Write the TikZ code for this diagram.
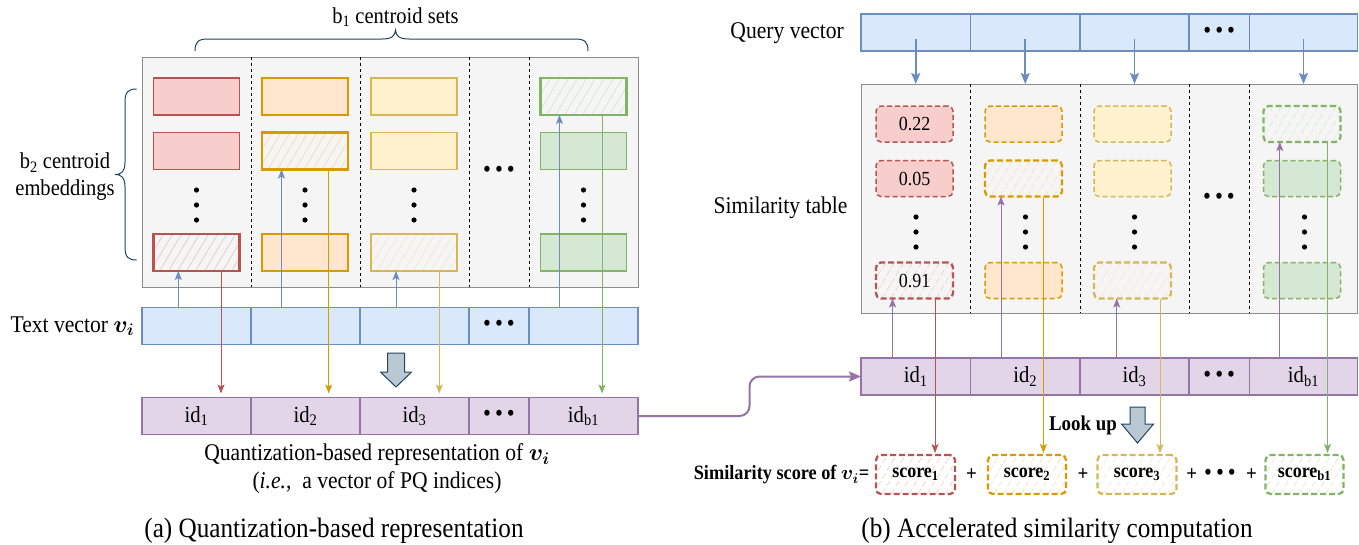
\RequirePackage{fix-cm}
\documentclass[tikz,border=0pt]{standalone}
\usepackage{amsmath,bm}
\usepackage{fontspec}
\setmainfont{Liberation Serif}[FakeStretch=0.9]
\usetikzlibrary{arrows.meta,calc}
\definecolor{redF}{HTML}{F8CECC}\definecolor{redD}{HTML}{B85450}
\definecolor{oraF}{HTML}{FFE6CC}\definecolor{oraD}{HTML}{D79B00}
\definecolor{yelF}{HTML}{FFF2CC}\definecolor{yelD}{HTML}{D6B656}
\definecolor{greF}{HTML}{D5E8D4}\definecolor{greD}{HTML}{82B366}
\definecolor{bluF}{HTML}{DAE8FC}\definecolor{bluD}{HTML}{6C8EBF}
\definecolor{purF}{HTML}{E1D5E7}\definecolor{purD}{HTML}{9673A6}
\definecolor{grayF}{HTML}{F5F5F5}\definecolor{grayD}{HTML}{8C8C8C}
\definecolor{arrF}{HTML}{BAC8D3}\definecolor{arrD}{HTML}{23445D}
\newcommand\tdots{\textbullet\hspace{4pt}\textbullet\hspace{4pt}\textbullet}
\newcommand\bv{$\bm{v}_{\bm{i}}$}
\begin{document}
\begin{tikzpicture}[x=1pt,y=-1pt,
  hatch/.style={path picture={\foreach \k in {0,...,14}{\draw[#1, line width=0.8pt] ($(path picture bounding box.south west)+(\k*9pt-30pt,0pt)$) -- ++(36pt,60pt);}}},
  vcell/.style 2 args={draw=#1, fill=#2, line width=1.5pt, minimum height=37pt, inner sep=0pt, outer sep=0pt, font=\fontsize{23}{27}\selectfont},
  dotsfont/.style={font=\fontsize{25}{25}\selectfont},
  graybox/.style={draw=grayD, fill=grayF, line width=1pt, inner sep=0pt, outer sep=0pt},
  divider/.style={black, line width=0.8pt, dash pattern=on 3pt off 3pt},
  lrect/.style 2 args={draw=#1, fill=#2, line width=1.5pt, minimum width=86pt, minimum height=37pt, inner sep=0pt, outer sep=0pt},
  lsel/.style={draw=#1, fill=grayF, line width=2.3pt, hatch=#1!30, minimum width=86pt, minimum height=37pt, inner sep=0pt, outer sep=0pt},
  rrect/.style 2 args={draw=#1, fill=#2, line width=1.5pt, dash pattern=on 5pt off 3pt, rounded corners=5pt, minimum width=77pt, minimum height=36pt, inner sep=0pt, outer sep=0pt, font=\fontsize{20}{24}\selectfont},
  rsel/.style={draw=#1, fill=grayF, line width=2.3pt, dash pattern=on 6pt off 3pt, rounded corners=5pt, hatch=#1!25, minimum width=77pt, minimum height=36pt, inner sep=0pt, outer sep=0pt, font=\fontsize{20}{24}\selectfont},
  sbox/.style={draw=#1, fill=white, line width=2.3pt, dash pattern=on 6pt off 3pt, rounded corners=5pt, hatch=#1!25, minimum width=78pt, minimum height=39pt, inner sep=0pt, outer sep=0pt, font=\bfseries\fontsize{20}{24}\selectfont},
  tarrow/.style={draw=#1, line width=0.9pt, -{Stealth[length=9pt,width=7pt,inset=2pt]}},
  qarrow/.style={draw=bluD, line width=1.6pt, -{Stealth[length=11pt,width=9pt,inset=2pt]}},
  lbl/.style={font=\fontsize{24}{28}\selectfont, inner sep=0pt},
  lbls/.style={font=\fontsize{22.8}{27}\selectfont, inner sep=0pt},
  capt/.style={font=\fontsize{28}{32}\selectfont, inner sep=0pt},
  boldlbl/.style={font=\bfseries\fontsize{21}{24}\selectfont, inner sep=0pt},
  bigarrow/.style={fill=arrF, draw=arrD, line width=1pt, line join=miter},
  bracestyle/.style={draw=arrD, line width=1pt}
]
\useasboundingbox (0,0) rectangle (1359,544);

% ================= (a) left panel =================
\node[graybox, minimum width=496pt, minimum height=230pt] (lgray) at (390,172) {};
\foreach \x in {251,360,469,529} \draw[divider] (\x,57) -- (\x,287);

\node[lrect={redD}{redF}] (L11) at (196.5,96.5) {};
\node[lrect={redD}{redF}] (L12) at (196.5,151) {};
\node[lsel=redD] (L14) at (196.5,252.5) {};
\node[lrect={oraD}{oraF}] (L21) at (305,96.5) {};
\node[lsel=oraD] (L22) at (305,151) {};
\node[lrect={oraD}{oraF}] (L24) at (305,252.5) {};
\node[lrect={yelD}{yelF}] (L31) at (414,96.5) {};
\node[lrect={yelD}{yelF}] (L32) at (414,151) {};
\node[lsel=yelD] (L34) at (414,252.5) {};
\node[lsel=greD] (L51) at (583.5,96.5) {};
\node[lrect={greD}{greF}] (L52) at (583.5,151) {};
\node[lrect={greD}{greF}] (L54) at (583.5,252.5) {};
\foreach \x in {196.5,305,414,583.5}{\foreach \y in {190,205,220}{\fill (\x,\y) circle[radius=2.6pt];}}
\node[dotsfont, inner sep=0pt] (ldots) at (499,172) {\tdots};

% text vector
\node[vcell={bluD}{bluF}, minimum width=109pt] (tv1) at (196.5,326) {};
\node[vcell={bluD}{bluF}, minimum width=109pt] (tv2) at (305.5,326) {};
\node[vcell={bluD}{bluF}, minimum width=109pt] (tv3) at (414.5,326) {};
\node[vcell={bluD}{bluF}, minimum width=60pt, dotsfont] (tv4) at (499,326) {\tdots};
\node[vcell={bluD}{bluF}, minimum width=109pt] (tv5) at (583.5,326) {};
% id vector
\node[vcell={purD}{purF}, minimum width=109pt] (lid1) at (196.5,416) {id\textsubscript{1}};
\node[vcell={purD}{purF}, minimum width=109pt] (lid2) at (305.5,416) {id\textsubscript{2}};
\node[vcell={purD}{purF}, minimum width=109pt] (lid3) at (414.5,416) {id\textsubscript{3}};
\node[vcell={purD}{purF}, minimum width=60pt, dotsfont] (lid4) at (499,416) {\tdots};
\node[vcell={purD}{purF}, minimum width=109pt] (lid5) at (583.5,416) {id\textsubscript{b1}};

% arrows (a)
\coordinate (xb1) at (178.3,0); \coordinate (xb2) at (281.5,0);
\coordinate (xb3) at (396,0);   \coordinate (xb5) at (559.5,0);
\coordinate (xr1) at (221,0);   \coordinate (xr2) at (328.7,0);
\coordinate (xr3) at (439.3,0); \coordinate (xr5) at (602,0);
\draw[tarrow=bluD] (tv1.north -| xb1) -- (xb1 |- L14.south);
\draw[tarrow=bluD] (tv2.north -| xb2) -- (xb2 |- L22.south);
\draw[tarrow=bluD] (tv3.north -| xb3) -- (xb3 |- L34.south);
\draw[tarrow=bluD] (tv5.north -| xb5) -- (xb5 |- L51.south);
\draw[tarrow=redD, shorten >=4pt] (L14.south -| xr1) -- (xr1 |- lid1.north);
\draw[tarrow=oraD, shorten >=4pt] (L22.south -| xr2) -- (xr2 |- lid2.north);
\draw[tarrow=yelD, shorten >=4pt] (L34.south -| xr3) -- (xr3 |- lid3.north);
\draw[tarrow=greD, shorten >=4pt] (L51.south -| xr5) -- (xr5 |- lid5.north);

\draw[bigarrow] (387.5,353) -- (404.5,353) -- (404.5,372) -- (411.5,372) -- (396,387) -- (380.5,372) -- (387.5,372) -- cycle;

% braces
\draw[bracestyle] (195,51) .. controls (195,42) and (198,39) .. (208,39) -- (382,39) .. controls (392,39) and (395,36) .. (395.5,30) .. controls (396,36) and (399,39) .. (409,39) -- (575,39) .. controls (585,39) and (588,42) .. (588,51);
\draw[bracestyle] (136.6,89) .. controls (128,89) and (125,92) .. (125,102) -- (125,162) .. controls (125,171) and (122,174.5) .. (115,174.5) .. controls (122,174.5) and (125,178) .. (125,187) -- (125,247) .. controls (125,257) and (128,260) .. (136.6,260);

% labels (a)
\node[lbls] (lb1) at (395.5,17) {b\textsubscript{1} centroid sets};
\node[lbls, align=center] (lb2) at (65,177) {b\textsubscript{2} centroid\\embeddings};
\node[lbl, anchor=east] (ltv) at (134.5,326) {Text vector \bv};
\node[lbl] (lq1) at (377,455) {Quantization-based representation of \bv};
\node[lbl] (lq2) at (377,483) {(\textit{i.e.},\ \ a vector of PQ indices)};
\node[capt] (capa) at (334,531) {(a) Quantization-based representation};

% ================= (b) right panel =================
\node[vcell={bluD}{bluF}, minimum width=109.5pt] (q1) at (915.75,32.5) {};
\node[vcell={bluD}{bluF}, minimum width=109.5pt] (q2) at (1025.25,32.5) {};
\node[vcell={bluD}{bluF}, minimum width=109pt] (q3) at (1134.5,32.5) {};
\node[vcell={bluD}{bluF}, minimum width=60.5pt, dotsfont] (q4) at (1219.25,32.5) {\tdots};
\node[vcell={bluD}{bluF}, minimum width=108pt] (q5) at (1303.5,32.5) {};

\node[graybox, minimum width=496.5pt, minimum height=229pt] (rgray) at (1109.25,198.5) {};
\foreach \x in {970.5,1080,1189,1249.5} \draw[divider] (\x,84) -- (\x,313);

\node[rrect={redD}{redF}] (R11) at (914.5,124) {0.22};
\node[rrect={redD}{redF}] (R12) at (914.5,178.5) {0.05};
\node[rsel=redD] (R14) at (914.5,280.5) {0.91};
\node[rrect={oraD}{oraF}] (R21) at (1023.5,124) {};
\node[rsel=oraD] (R22) at (1023.5,178.5) {};
\node[rrect={oraD}{oraF}] (R24) at (1023.5,280.5) {};
\node[rrect={yelD}{yelF}] (R31) at (1132.5,124) {};
\node[rrect={yelD}{yelF}] (R32) at (1132.5,178.5) {};
\node[rsel=yelD] (R34) at (1132.5,280.5) {};
\node[rsel=greD] (R51) at (1302,124) {};
\node[rrect={greD}{greF}] (R52) at (1302,178.5) {};
\node[rrect={greD}{greF}] (R54) at (1302,280.5) {};
\foreach \x in {916,1025.5,1134.5,1304.5}{\foreach \y in {217,232,247}{\fill (\x,\y) circle[radius=2.6pt];}}
\node[dotsfont, inner sep=0pt] (rdots) at (1219,199) {\tdots};

\node[vcell={purD}{purF}, minimum width=109.5pt] (rid1) at (915.75,376.5) {id\textsubscript{1}};
\node[vcell={purD}{purF}, minimum width=109.5pt] (rid2) at (1025.25,376.5) {id\textsubscript{2}};
\node[vcell={purD}{purF}, minimum width=109pt] (rid3) at (1134.5,376.5) {id\textsubscript{3}};
\node[vcell={purD}{purF}, minimum width=60.5pt, dotsfont] (rid4) at (1219.25,376.5) {\tdots};
\node[vcell={purD}{purF}, minimum width=108pt] (rid5) at (1303.5,376.5) {id\textsubscript{b1}};

\node[sbox=redD, minimum width=79pt] (s1) at (915.5,474.5) {score\textsubscript{1}};
\node[sbox=oraD] (s2) at (1027,474.5) {score\textsubscript{2}};
\node[sbox=yelD, minimum width=79pt] (s3) at (1137,474.5) {score\textsubscript{3}};
\node[sbox=greD] (s5) at (1304.5,474.5) {score\textsubscript{b1}};
\node[boldlbl] (p1) at (971.4,475) {+};
\node[boldlbl] (p2) at (1083,475) {+};
\node[boldlbl] (p3) at (1191.8,475) {+};
\node[dotsfont, inner sep=0pt] (sdots) at (1220,475) {\tdots};
\node[boldlbl] (p4) at (1251.6,475) {+};

% arrows (b)
\draw[qarrow] ([yshift=-6pt]q1.center) -- (q1.center |- rgray.north);
\draw[qarrow] ([yshift=-6pt]q2.center) -- (q2.center |- rgray.north);
\draw[qarrow] ([yshift=-6pt]q3.center) -- (q3.center |- rgray.north);
\draw[qarrow] ([yshift=-6pt]q5.center) -- (q5.center |- rgray.north);

\coordinate (xp1) at (892.5,0);  \coordinate (xp2) at (1001,0);
\coordinate (xp3) at (1116.7,0); \coordinate (xp5) at (1279.8,0);
\coordinate (xc1) at (935,0);    \coordinate (xc2) at (1043.4,0);
\coordinate (xc3) at (1160,0);   \coordinate (xc5) at (1327.5,0);
\draw[tarrow=purD] (rid1.north -| xp1) -- (xp1 |- R14.south);
\draw[tarrow=purD] (rid2.north -| xp2) -- (xp2 |- R22.south);
\draw[tarrow=purD] (rid3.north -| xp3) -- (xp3 |- R34.south);
\draw[tarrow=purD] (rid5.north -| xp5) -- (xp5 |- R51.south);
\draw[tarrow=redD, shorten >=2pt] (R14.south -| xc1) -- (xc1 |- s1.north);
\draw[tarrow=oraD, shorten >=2pt] (R22.south -| xc2) -- (xc2 |- s2.north);
\draw[tarrow=yelD, shorten >=2pt] (R34.south -| xc3) -- (xc3 |- s3.north);
\draw[tarrow=greD, shorten >=2pt] (R51.south -| xc5) -- (xc5 |- s5.north);

\draw[bigarrow] (1130,407) -- (1145,407) -- (1145,424) -- (1153.5,424) -- (1137.5,443) -- (1121.5,424) -- (1130,424) -- cycle;

% connector between panels
\coordinate (cmid) at ($(lid5.east)!0.5!(rid1.west)$);
\draw[purD, line width=2pt, rounded corners=10pt, -{Stealth[length=12pt,width=10pt,inset=2pt]}] (lid5.east) -| (cmid) |- (rid1.west);

% labels (b)
\node[lbl, anchor=east] (lqv) at (844,33) {Query vector};
\node[lbl] (lst) at (780.6,208) {Similarity table};
\node[boldlbl, anchor=east] (llu) at (1117,425) {Look up};
\node[boldlbl, font=\bfseries\fontsize{20.3}{24}\selectfont, anchor=east] (lss) at (869.5,475) {Similarity score of \bv=};
\node[capt] (capb) at (1057,531) {(b) Accelerated similarity computation};
\end{tikzpicture}
\end{document}
